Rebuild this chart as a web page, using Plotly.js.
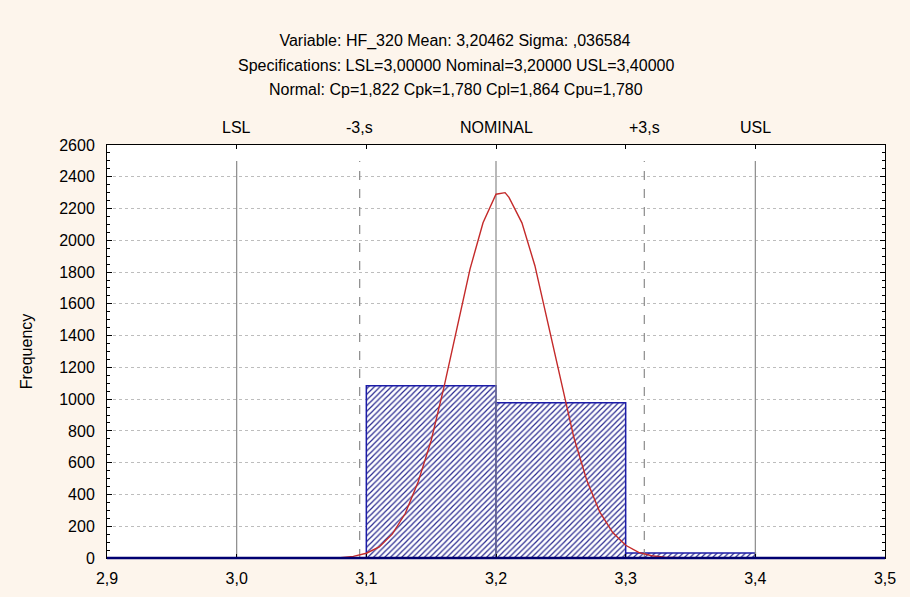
<!DOCTYPE html>
<html>
<head>
<meta charset="utf-8">
<script src="https://cdn.plot.ly/plotly-3.0.1.min.js"></script>
<style>html,body{margin:0;padding:0;background:#fdf5ec;}#chart{width:910px;height:597px;}</style>
</head>
<body>
<div id="chart"></div>
<script>
// Histogram bins (centres) and frequencies
const binCenters = [2.95, 3.05, 3.15, 3.25, 3.35, 3.45];
const binCounts  = [0, 0, 1085, 978, 32, 0];
const binWidth = 0.1;

// Fitted normal curve
const curveX = [3.07, 3.08, 3.09, 3.10, 3.11, 3.12, 3.13, 3.14, 3.15, 3.16, 3.17, 3.18, 3.19, 3.20, 3.207, 3.21, 3.22, 3.23, 3.24, 3.25, 3.26, 3.27, 3.28, 3.29, 3.30, 3.31, 3.32, 3.33, 3.34, 3.35];
const curveY = [0, 2, 10, 30, 70, 150, 280, 480, 740, 1080, 1450, 1820, 2110, 2290, 2300, 2270, 2110, 1840, 1480, 1110, 760, 490, 290, 160, 80, 35, 14, 5, 1, 0];

// Specification / sigma lines
const specX      = [3.0, 3.09487, 3.2, 3.31437, 3.4];
const specLabels = ["LSL", "-3,s", "NOMINAL", "+3,s", "USL"];
const specDash   = ["solid", "dash", "solid", "dash", "solid"];
const specTop = 2500;

const titleLines = [
  "Variable: HF_320 Mean: 3,20462 Sigma: ,036584",
  "Specifications: LSL=3,00000 Nominal=3,20000 USL=3,40000",
  "Normal: Cp=1,822 Cpk=1,780 Cpl=1,864 Cpu=1,780"
];

const FONT = "Liberation Sans, Arial, sans-serif";
const FS = 16;

const traces = [];
traces.push({
  type: "bar",
  x: binCenters,
  y: binCounts,
  width: binCenters.map(() => binWidth),
  marker: {
    color: "#ffffff",
    line: {color: "#1c1ca8", width: 1.5},
    pattern: {shape: "/", fgcolor: "#2a2a90", bgcolor: "#ffffff", size: 4, solidity: 0.3}
  },
  hoverinfo: "x+y",
  showlegend: false
});
specX.forEach((sx, i) => {
  traces.push({
    type: "scatter", mode: "lines",
    x: [sx, sx], y: [0, specTop],
    line: {color: "#8a8a8a", width: 1.2, dash: specDash[i]},
    hoverinfo: "skip", showlegend: false
  });
});
traces.push({
  type: "scatter", mode: "lines",
  x: curveX, y: curveY,
  line: {color: "#c42a2a", width: 1.4},
  showlegend: false
});

const annotations = [];
specX.forEach((sx, i) => {
  annotations.push({
    x: sx, xref: "x", y: 1, yref: "paper", yanchor: "middle", yshift: 18,
    text: specLabels[i], showarrow: false,
    font: {family: FONT, size: FS, color: "#000"}
  });
});
const titleShift = [80, 56];
for (let i = 1; i < titleLines.length; i++) {
  annotations.push({
    x: 0.4486, xref: "paper", y: 1, yref: "paper", yanchor: "middle", yshift: titleShift[i-1],
    text: titleLines[i], showarrow: false,
    font: {family: FONT, size: FS, color: "#000"}
  });
}

const layout = {
  width: 910, height: 597,
  paper_bgcolor: "#fdf5ec",
  plot_bgcolor: "#ffffff",
  separators: ", ",
  font: {family: FONT, size: FS, color: "#000"},
  margin: {l: 107, r: 25, t: 145, b: 39},
  title: {
    text: titleLines[0],
    xref: "container", x: 0.5, xanchor: "center",
    yref: "container", y: 1 - 40/597, yanchor: "middle",
    font: {family: FONT, size: FS, color: "#000"}
  },
  bargap: 0,
  xaxis: {
    range: [2.9, 3.5], dtick: 0.1, tick0: 2.9, tickformat: ".1f",
    showgrid: false, zeroline: false,
    showline: true, linecolor: "#000", linewidth: 1, mirror: "ticks",
    ticks: "inside", ticklen: 4, tickcolor: "#000",
    ticklabelstandoff: 6,
    tickfont: {family: FONT, size: FS}
  },
  yaxis: {
    range: [0, 2600], dtick: 200, tick0: 0,
    showgrid: true, gridcolor: "#bdbdbd", griddash: "dot", gridwidth: 1,
    zeroline: false,
    showline: true, linecolor: "#000", linewidth: 1, mirror: "ticks",
    ticks: "inside", ticklen: 5, tickcolor: "#000",
    minor: {ticks: "inside", ticklen: 3, dtick: 50, tickcolor: "#000", showgrid: false},
    ticklabelstandoff: 8,
    tickfont: {family: FONT, size: FS},
    title: {text: "Frequency", standoff: 22, font: {family: FONT, size: FS}}
  },
  shapes: [{
    type: "line", xref: "paper", yref: "paper", x0: 0, x1: 1, y0: 0, y1: 0,
    line: {color: "#000070", width: 2.5}, layer: "above"
  }],
  annotations: annotations,
  showlegend: false
};

Plotly.newPlot("chart", traces, layout, {displayModeBar: false, staticPlot: true});
</script>
</body>
</html>
